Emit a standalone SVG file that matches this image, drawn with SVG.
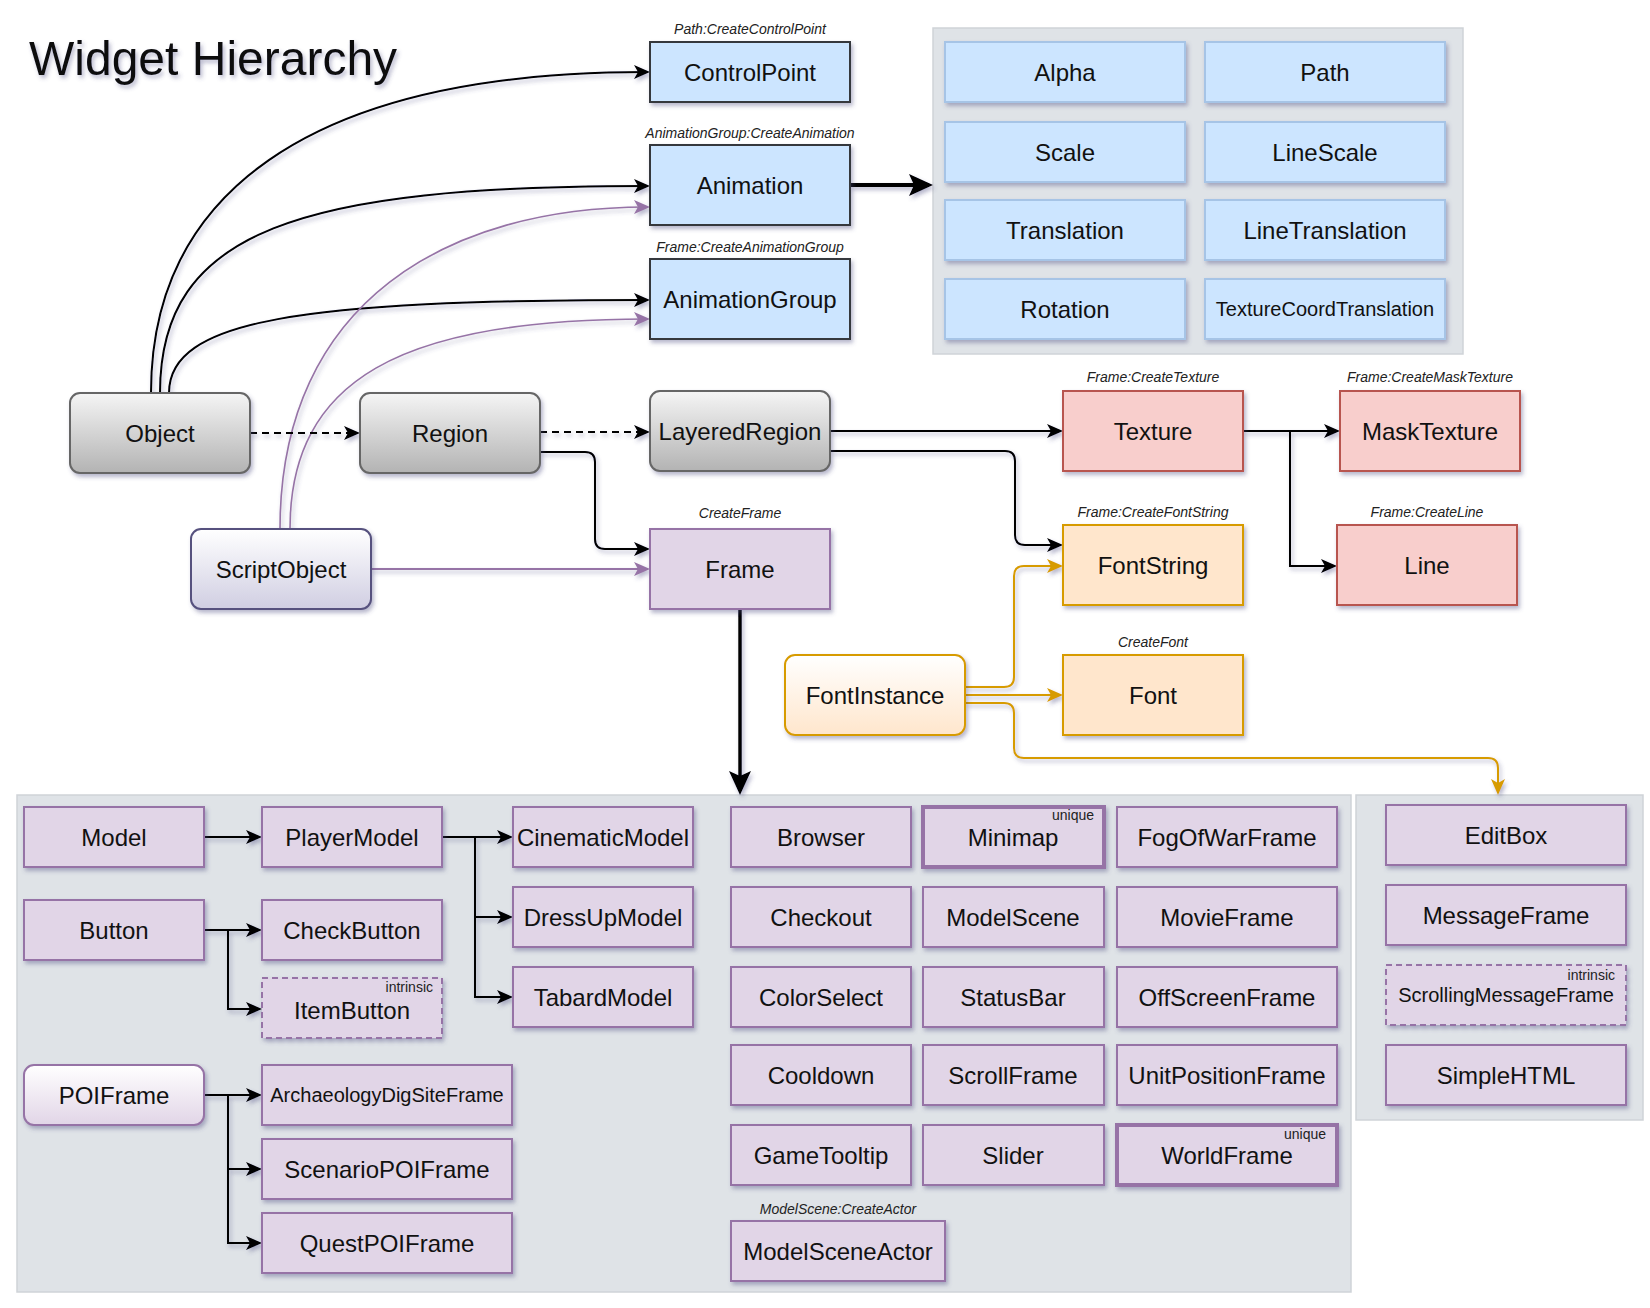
<svg xmlns="http://www.w3.org/2000/svg" width="1650" height="1308" viewBox="0 0 1650 1308">
<defs>
<style>
text{font-family:"Liberation Sans",Arial,Helvetica,sans-serif;fill:#111}
.m{font-size:24px;text-anchor:middle}
.s{font-size:20px;text-anchor:middle}
.l{font-size:14px;font-style:italic;text-anchor:middle;fill:#222}
.t{font-size:14px;text-anchor:end;fill:#222}
.blue{fill:#cce5ff;stroke:#36393d;stroke-width:2}
.lb{fill:#cce5ff;stroke:#a6c4e6;stroke-width:2}
.pu{fill:#e1d5e7;stroke:#9673a6;stroke-width:2}
.puu{fill:#e1d5e7;stroke:#9673a6;stroke-width:4}
.pud{fill:#e1d5e7;stroke:#9673a6;stroke-width:2;stroke-dasharray:6 4}
.red{fill:#f8cecc;stroke:#b85450;stroke-width:2}
.or{fill:#ffe6cc;stroke:#d79b00;stroke-width:2}
.cont{fill:#dfe3e7;stroke:#cfd3d8;stroke-width:1.5}
.e{fill:none;stroke:#000;stroke-width:2}
.ep{fill:none;stroke:#9673a6;stroke-width:2}
.eo{fill:none;stroke:#d79b00;stroke-width:2}
.sh{filter:url(#shadow)}
</style>
<filter id="shadow" x="-20%" y="-20%" width="140%" height="160%">
<feDropShadow dx="2" dy="3" stdDeviation="2" flood-color="#4a4a80" flood-opacity="0.4"/>
</filter>
<linearGradient id="gGray" x1="0" y1="0" x2="0" y2="1"><stop offset="0" stop-color="#f5f5f5"/><stop offset="1" stop-color="#b3b3b3"/></linearGradient>
<linearGradient id="gScript" x1="0" y1="0" x2="0" y2="1"><stop offset="0" stop-color="#ffffff"/><stop offset="1" stop-color="#d0cee2"/></linearGradient>
<linearGradient id="gOr" x1="0" y1="0" x2="0" y2="1"><stop offset="0" stop-color="#ffffff"/><stop offset="1" stop-color="#ffe6cc"/></linearGradient>
<linearGradient id="gPu" x1="0" y1="0" x2="0" y2="1"><stop offset="0" stop-color="#ffffff"/><stop offset="1" stop-color="#e1d5e7"/></linearGradient>
<marker id="aK" viewBox="0 0 16 14" refX="13" refY="7" markerWidth="16" markerHeight="14" markerUnits="userSpaceOnUse" orient="auto"><path d="M0,0 L16,7 L0,14 L4,7 Z" fill="#000"/></marker>
<marker id="aP" viewBox="0 0 16 14" refX="13" refY="7" markerWidth="16" markerHeight="14" markerUnits="userSpaceOnUse" orient="auto"><path d="M0,0 L16,7 L0,14 L4,7 Z" fill="#9673a6"/></marker>
<marker id="aO" viewBox="0 0 16 14" refX="13" refY="7" markerWidth="16" markerHeight="14" markerUnits="userSpaceOnUse" orient="auto"><path d="M0,0 L16,7 L0,14 L4,7 Z" fill="#d79b00"/></marker>
<marker id="aB" viewBox="0 0 24 22" refX="20" refY="11" markerWidth="24" markerHeight="22" markerUnits="userSpaceOnUse" orient="auto"><path d="M0,0 L24,11 L0,22 L5,11 Z" fill="#000"/></marker>
</defs>
<rect width="1650" height="1308" fill="#ffffff"/>

<text x="29" y="75" style="font-size:48px;filter:url(#shadow)">Widget Hierarchy</text>

<g id="containers">
<rect id="animContainer" class="cont" x="933" y="28" width="530" height="326"/>
<rect id="frameContainer" class="cont" x="17" y="795" width="1334" height="497"/>
<rect id="editContainer" class="cont" x="1356" y="795" width="287" height="325"/>
</g>

<g id="connectors" class="sh">
<path class="e" d="M151,393 C151,200 300,72 647,72" marker-end="url(#aK)"/>
<path class="e" d="M160,393 C160,230 300,186 647,186" marker-end="url(#aK)"/>
<path class="e" d="M169,393 C169,320 300,300 647,300" marker-end="url(#aK)"/>
<path class="ep" style="stroke-width:1.6" d="M280,529 C280,300 450,207 647,207" marker-end="url(#aP)"/>
<path class="ep" style="stroke-width:1.6" d="M290,529 C290,380 400,319 647,319" marker-end="url(#aP)"/>
<path class="e" style="stroke-width:4" d="M850,185 H929" marker-end="url(#aB)"/>
<path class="e" style="stroke-dasharray:7 5" d="M250,433 H357" marker-end="url(#aK)"/>
<path class="e" style="stroke-dasharray:7 5" d="M540,432 H647" marker-end="url(#aK)"/>
<path class="e" d="M540,452 H585 Q595,452 595,462 V539 Q595,549 605,549 H647" marker-end="url(#aK)"/>
<path class="ep" d="M371,569 H647" marker-end="url(#aP)"/>
<path class="e" d="M830,431 H1060" marker-end="url(#aK)"/>
<path class="e" d="M830,451 H1005 Q1015,451 1015,461 V535 Q1015,545 1025,545 H1060" marker-end="url(#aK)"/>
<path class="e" d="M1243,431 H1337" marker-end="url(#aK)"/>
<path class="e" d="M1243,431 H1290 V566 H1334" marker-end="url(#aK)"/>
<path class="eo" d="M965,687 H1004 Q1014,687 1014,677 V576 Q1014,566 1024,566 H1060" marker-end="url(#aO)"/>
<path class="eo" d="M965,695 H1060" marker-end="url(#aO)"/>
<path class="eo" d="M965,703 H1004 Q1014,703 1014,713 V748 Q1014,758 1024,758 H1488 Q1498,758 1498,768 V792" marker-end="url(#aO)"/>
<path class="e" style="stroke-width:3.5" d="M740,609 V791" marker-end="url(#aB)"/>
<path class="e" d="M204,837 H259" marker-end="url(#aK)"/>
<path class="e" d="M442,837 H510" marker-end="url(#aK)"/>
<path class="e" d="M442,837 H475 V917 H510" marker-end="url(#aK)"/>
<path class="e" d="M442,837 H475 V997 H510" marker-end="url(#aK)"/>
<path class="e" d="M204,930 H259" marker-end="url(#aK)"/>
<path class="e" d="M204,930 H228 V1009 H259" marker-end="url(#aK)"/>
<path class="e" d="M204,1095 H259" marker-end="url(#aK)"/>
<path class="e" d="M204,1095 H228 V1169 H259" marker-end="url(#aK)"/>
<path class="e" d="M204,1095 H228 V1243 H259" marker-end="url(#aK)"/>
</g>

<g id="n-controlpoint"><rect class="blue sh" x="650" y="42" width="200" height="60"/><text class="l" x="750" y="34">Path:CreateControlPoint</text><text class="m" x="750" y="80.5">ControlPoint</text></g>
<g id="n-animation"><rect class="blue sh" x="650" y="145" width="200" height="80"/><text class="l" x="750" y="138">AnimationGroup:CreateAnimation</text><text class="m" x="750" y="193.5">Animation</text></g>
<g id="n-animationgroup"><rect class="blue sh" x="650" y="259" width="200" height="80"/><text class="l" x="750" y="252">Frame:CreateAnimationGroup</text><text class="m" x="750" y="307.5">AnimationGroup</text></g>

<g id="n-alpha"><rect class="lb sh" x="945" y="42" width="240" height="60"/><text class="m" x="1065" y="80.5">Alpha</text></g>
<g id="n-path"><rect class="lb sh" x="1205" y="42" width="240" height="60"/><text class="m" x="1325" y="80.5">Path</text></g>
<g id="n-scale"><rect class="lb sh" x="945" y="122" width="240" height="60"/><text class="m" x="1065" y="160.5">Scale</text></g>
<g id="n-linescale"><rect class="lb sh" x="1205" y="122" width="240" height="60"/><text class="m" x="1325" y="160.5">LineScale</text></g>
<g id="n-translation"><rect class="lb sh" x="945" y="200" width="240" height="60"/><text class="m" x="1065" y="238.5">Translation</text></g>
<g id="n-linetranslation"><rect class="lb sh" x="1205" y="200" width="240" height="60"/><text class="m" x="1325" y="238.5">LineTranslation</text></g>
<g id="n-rotation"><rect class="lb sh" x="945" y="279" width="240" height="60"/><text class="m" x="1065" y="317.5">Rotation</text></g>
<g id="n-texcoord"><rect class="lb sh" x="1205" y="279" width="240" height="60"/><text class="s" x="1325" y="316">TextureCoordTranslation</text></g>

<g id="n-object"><rect class="sh" x="70" y="393" width="180" height="80" rx="10" fill="url(#gGray)" stroke="#666" stroke-width="2"/><text class="m" x="160" y="441.5">Object</text></g>
<g id="n-region"><rect class="sh" x="360" y="393" width="180" height="80" rx="10" fill="url(#gGray)" stroke="#666" stroke-width="2"/><text class="m" x="450" y="441.5">Region</text></g>
<g id="n-layeredregion"><rect class="sh" x="650" y="391" width="180" height="80" rx="10" fill="url(#gGray)" stroke="#666" stroke-width="2"/><text class="m" x="740" y="439.5">LayeredRegion</text></g>
<g id="n-scriptobject"><rect class="sh" x="191" y="529" width="180" height="80" rx="10" fill="url(#gScript)" stroke="#56517e" stroke-width="2"/><text class="m" x="281" y="577.5">ScriptObject</text></g>
<g id="n-frame"><rect class="pu sh" x="650" y="529" width="180" height="80"/><text class="l" x="740" y="518">CreateFrame</text><text class="m" x="740" y="577.5">Frame</text></g>
<g id="n-texture"><rect class="red sh" x="1063" y="391" width="180" height="80"/><text class="l" x="1153" y="382">Frame:CreateTexture</text><text class="m" x="1153" y="439.5">Texture</text></g>
<g id="n-masktexture"><rect class="red sh" x="1340" y="391" width="180" height="80"/><text class="l" x="1430" y="382">Frame:CreateMaskTexture</text><text class="m" x="1430" y="439.5">MaskTexture</text></g>
<g id="n-fontstring"><rect class="or sh" x="1063" y="525" width="180" height="80"/><text class="l" x="1153" y="517">Frame:CreateFontString</text><text class="m" x="1153" y="573.5">FontString</text></g>
<g id="n-line"><rect class="red sh" x="1337" y="525" width="180" height="80"/><text class="l" x="1427" y="517">Frame:CreateLine</text><text class="m" x="1427" y="573.5">Line</text></g>
<g id="n-fontinstance"><rect class="sh" x="785" y="655" width="180" height="80" rx="10" fill="url(#gOr)" stroke="#d79b00" stroke-width="2"/><text class="m" x="875" y="703.5">FontInstance</text></g>
<g id="n-font"><rect class="or sh" x="1063" y="655" width="180" height="80"/><text class="l" x="1153" y="647">CreateFont</text><text class="m" x="1153" y="703.5">Font</text></g>

<g id="n-model"><rect class="pu sh" x="24" y="807" width="180" height="60"/><text class="m" x="114" y="845.5">Model</text></g>
<g id="n-playermodel"><rect class="pu sh" x="262" y="807" width="180" height="60"/><text class="m" x="352" y="845.5">PlayerModel</text></g>
<g id="n-cinematicmodel"><rect class="pu sh" x="513" y="807" width="180" height="60"/><text class="m" x="603" y="845.5">CinematicModel</text></g>
<g id="n-dressupmodel"><rect class="pu sh" x="513" y="887" width="180" height="60"/><text class="m" x="603" y="925.5">DressUpModel</text></g>
<g id="n-tabardmodel"><rect class="pu sh" x="513" y="967" width="180" height="60"/><text class="m" x="603" y="1005.5">TabardModel</text></g>
<g id="n-button"><rect class="pu sh" x="24" y="900" width="180" height="60"/><text class="m" x="114" y="938.5">Button</text></g>
<g id="n-checkbutton"><rect class="pu sh" x="262" y="900" width="180" height="60"/><text class="m" x="352" y="938.5">CheckButton</text></g>
<g id="n-itembutton"><rect class="pud sh" x="262" y="978" width="180" height="60"/><text class="t" x="433" y="992">intrinsic</text><text class="m" x="352" y="1018.5">ItemButton</text></g>
<g id="n-poiframe"><rect class="sh" x="24" y="1065" width="180" height="60" rx="10" fill="url(#gPu)" stroke="#9673a6" stroke-width="2"/><text class="m" x="114" y="1103.5">POIFrame</text></g>
<g id="n-archaeology"><rect class="pu sh" x="262" y="1065" width="250" height="60"/><text class="s" x="387" y="1102">ArchaeologyDigSiteFrame</text></g>
<g id="n-scenariopoi"><rect class="pu sh" x="262" y="1139" width="250" height="60"/><text class="m" x="387" y="1177.5">ScenarioPOIFrame</text></g>
<g id="n-questpoi"><rect class="pu sh" x="262" y="1213" width="250" height="60"/><text class="m" x="387" y="1251.5">QuestPOIFrame</text></g>

<g id="n-browser"><rect class="pu sh" x="731" y="807" width="180" height="60"/><text class="m" x="821" y="845.5">Browser</text></g>
<g id="n-minimap"><rect class="puu sh" x="923" y="807" width="181" height="60"/><text class="t" x="1094" y="820">unique</text><text class="m" x="1013" y="845.5">Minimap</text></g>
<g id="n-fogofwar"><rect class="pu sh" x="1117" y="807" width="220" height="60"/><text class="m" x="1227" y="845.5">FogOfWarFrame</text></g>
<g id="n-checkout"><rect class="pu sh" x="731" y="887" width="180" height="60"/><text class="m" x="821" y="925.5">Checkout</text></g>
<g id="n-modelscene"><rect class="pu sh" x="923" y="887" width="181" height="60"/><text class="m" x="1013" y="925.5">ModelScene</text></g>
<g id="n-movieframe"><rect class="pu sh" x="1117" y="887" width="220" height="60"/><text class="m" x="1227" y="925.5">MovieFrame</text></g>
<g id="n-colorselect"><rect class="pu sh" x="731" y="967" width="180" height="60"/><text class="m" x="821" y="1005.5">ColorSelect</text></g>
<g id="n-statusbar"><rect class="pu sh" x="923" y="967" width="181" height="60"/><text class="m" x="1013" y="1005.5">StatusBar</text></g>
<g id="n-offscreen"><rect class="pu sh" x="1117" y="967" width="220" height="60"/><text class="m" x="1227" y="1005.5">OffScreenFrame</text></g>
<g id="n-cooldown"><rect class="pu sh" x="731" y="1045" width="180" height="60"/><text class="m" x="821" y="1083.5">Cooldown</text></g>
<g id="n-scrollframe"><rect class="pu sh" x="923" y="1045" width="181" height="60"/><text class="m" x="1013" y="1083.5">ScrollFrame</text></g>
<g id="n-unitposition"><rect class="pu sh" x="1117" y="1045" width="220" height="60"/><text class="m" x="1227" y="1083.5">UnitPositionFrame</text></g>
<g id="n-gametooltip"><rect class="pu sh" x="731" y="1125" width="180" height="60"/><text class="m" x="821" y="1163.5">GameTooltip</text></g>
<g id="n-slider"><rect class="pu sh" x="923" y="1125" width="181" height="60"/><text class="m" x="1013" y="1163.5">Slider</text></g>
<g id="n-worldframe"><rect class="puu sh" x="1117" y="1125" width="220" height="60"/><text class="t" x="1326" y="1139">unique</text><text class="m" x="1227" y="1163.5">WorldFrame</text></g>
<g id="n-modelsceneactor"><rect class="pu sh" x="731" y="1221" width="214" height="60"/><text class="l" x="838" y="1214">ModelScene:CreateActor</text><text class="m" x="838" y="1259.5">ModelSceneActor</text></g>

<g id="n-editbox"><rect class="pu sh" x="1386" y="805" width="240" height="60"/><text class="m" x="1506" y="843.5">EditBox</text></g>
<g id="n-messageframe"><rect class="pu sh" x="1386" y="885" width="240" height="60"/><text class="m" x="1506" y="923.5">MessageFrame</text></g>
<g id="n-scrollingmessage"><rect class="pud sh" x="1386" y="965" width="240" height="60"/><text class="t" x="1615" y="980">intrinsic</text><text class="s" x="1506" y="1002">ScrollingMessageFrame</text></g>
<g id="n-simplehtml"><rect class="pu sh" x="1386" y="1045" width="240" height="60"/><text class="m" x="1506" y="1083.5">SimpleHTML</text></g>
</svg>
